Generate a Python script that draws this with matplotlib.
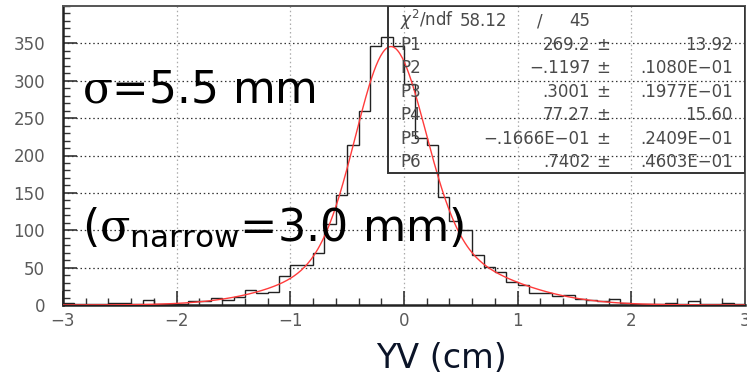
import matplotlib.pyplot as plt
import numpy as np
from matplotlib.patches import Rectangle
from matplotlib.ticker import MultipleLocator

plt.rcParams['font.family'] = ['DejaVu Sans']
plt.rcParams['mathtext.fontset'] = 'custom'
plt.rcParams['mathtext.it'] = 'DejaVu Serif'
plt.rcParams['mathtext.rm'] = 'DejaVu Sans'

# YV distribution, 60 bins of 0.1 cm between -3 and 3
bin_edges = np.round(np.linspace(-3.0, 3.0, 61), 2)
counts = [3, 2, 1, 1, 3, 3, 1, 7, 1, 2,
          1, 6, 5, 9, 7, 11, 20, 16, 18, 39,
          54, 53, 70, 108, 147, 214, 260, 347, 358, 347,
          295, 223, 214, 145, 112, 100, 67, 51, 44, 31,
          27, 16, 16, 12, 13, 8, 7, 5, 8, 3,
          1, 1, 1, 3, 2, 6, 1, 1, 3, 1]

# double gaussian fit: P1-P3 narrow part, P4-P6 wide part
par_names = ['P1', 'P2', 'P3', 'P4', 'P5', 'P6']
par_values = [269.2, -0.1197, 0.3001, 77.27, -0.01666, 0.7402]
par_value_text = ['269.2', '\u2212.1197', '.3001', '77.27', '\u2212.1666E\u221201', '.7402']
par_error_text = ['13.92', '.1080E\u221201', '.1977E\u221201', '15.60', '.2409E\u221201', '.4603E\u221201']
chi2_text = '58.12'
ndf_text = '45'

def double_gauss(x, p):
    g1 = p[0] * np.exp(-0.5 * ((x - p[1]) / p[2]) ** 2)
    g2 = p[3] * np.exp(-0.5 * ((x - p[4]) / p[5]) ** 2)
    return g1 + g2

fig = plt.figure(figsize=(7.47, 3.82), dpi=100)
ax = fig.add_axes([63 / 747, 1 - 305 / 382, 682 / 747, 299 / 382])

ax.set_xlim(-3, 3)
ax.set_ylim(0, 400)

# dotted grid
for yv in [50, 100, 150, 200, 250, 300, 350]:
    ax.axhline(yv, color='#333333', lw=0.9, ls=(0, (1.2, 2.2)), zorder=1)
for xv in [-2, -1, 0, 1, 2]:
    ax.axvline(xv, color='#aaaaaa', lw=0.9, ls=(0, (1.2, 2.2)), zorder=1)

ax.stairs(counts, bin_edges, color='#222222', lw=1.0, zorder=3)

xs = np.linspace(-3, 3, 600)
ax.plot(xs, double_gauss(xs, par_values), color='#ff3b3b', lw=1.0, zorder=4)

# ticks
ax.set_yticks([0, 50, 100, 150, 200, 250, 300, 350])
ax.xaxis.set_major_locator(MultipleLocator(1))
ax.xaxis.set_minor_locator(MultipleLocator(0.2))
ax.yaxis.set_minor_locator(MultipleLocator(10))
ax.tick_params(which='both', direction='in', color='#333333', labelcolor='#5a5a5a',
               labelsize=12, top=False, right=False)
ax.tick_params(which='major', length=10, width=1.2)
ax.tick_params(which='minor', length=5, width=1.0)
ax.tick_params(axis='y', pad=13)
ax.tick_params(axis='x', pad=5)

for side in ['left', 'bottom']:
    ax.spines[side].set_linewidth(1.8)
    ax.spines[side].set_color('#222222')
for side in ['top', 'right']:
    ax.spines[side].set_linewidth(1.4)
    ax.spines[side].set_color('#555555')

# statistics box
ax.add_patch(Rectangle((0.4765, 0.4415), 0.5235, 0.5585, transform=ax.transAxes,
                       fill=False, ec='#333333', lw=1.4, zorder=5))
box_kw = dict(transform=ax.transAxes, fontsize=12, color='#4a4a4a', va='baseline', zorder=6)
ax.text(0.494, 0.933, r'$\chi^2$/ndf', math_fontfamily='dejavusans', **box_kw)
ax.text(0.582, 0.933, chi2_text, **box_kw)
ax.text(0.699, 0.933, '/', ha='center', **box_kw)
ax.text(0.773, 0.933, ndf_text, ha='right', **box_kw)
for i in range(len(par_names)):
    y = 0.8545 - i * 0.0786
    ax.text(0.494, y, par_names[i], **box_kw)
    ax.text(0.773, y, par_value_text[i], ha='right', **box_kw)
    ax.text(0.792, y, '\u00b1', ha='center', **box_kw)
    ax.text(0.982, y, par_error_text[i], ha='right', **box_kw)

# resolution annotations
ax.text(0.028, 0.6756, r'$\sigma$=5.5 mm', transform=ax.transAxes, fontsize=31.5,
        color='black', va='baseline', zorder=7)
ax.text(0.028, 0.2124, r'($\sigma_{\mathregular{narrow}}$=3.0 mm)', transform=ax.transAxes,
        fontsize=32, color='black', va='baseline', zorder=7)

fig.text(441.5 / 747, 1 - 368 / 382, 'YV (cm)', fontsize=24, color='#0b1428',
         ha='center', va='baseline')

fig.savefig('out.png', dpi=100)
